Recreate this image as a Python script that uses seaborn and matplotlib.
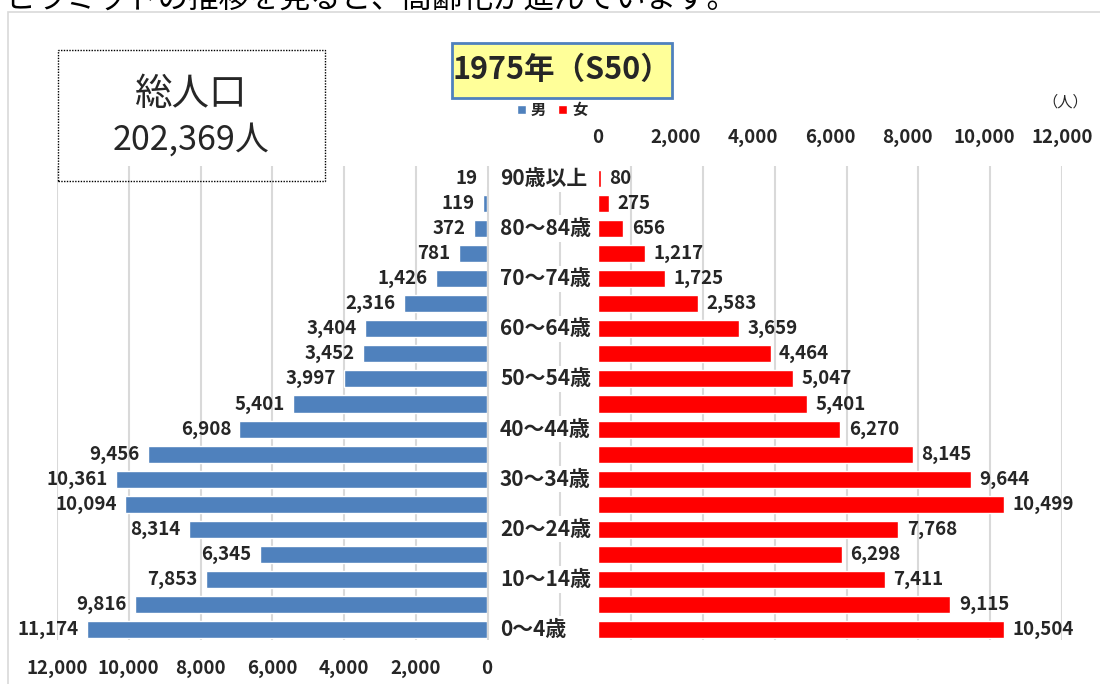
import matplotlib
matplotlib.use('Agg')
import matplotlib.pyplot as plt
import matplotlib.patches as mpatches
import matplotlib.transforms as mtransforms
import pandas as pd
import seaborn as sns

# Data (top row first: 90歳以上 ... 0～4歳)
ages = ['90歳以上', '85～89歳', '80～84歳', '75～79歳', '70～74歳', '65～69歳',
        '60～64歳', '55～59歳', '50～54歳', '45～49歳', '40～44歳', '35～39歳',
        '30～34歳', '25～29歳', '20～24歳', '15～19歳', '10～14歳', '5～9歳', '0～4歳']
male = [19, 119, 372, 781, 1426, 2316, 3404, 3452, 3997, 5401, 6908, 9456,
        10361, 10094, 8314, 6345, 7853, 9816, 11174]
female = [80, 275, 656, 1217, 1725, 2583, 3659, 4464, 5047, 5401, 6270, 8145,
          9644, 10499, 7768, 6298, 7411, 9115, 10504]
ticks = [0, 2000, 4000, 6000, 8000, 10000, 12000]
total_label = '202,369人'
title = '1975年（S50）'

df = pd.DataFrame({'age': ages, 'male': male, 'female': female})

sns.set_theme(style='white')
plt.rcParams['font.family'] = ['Noto Sans CJK JP', 'DejaVu Sans']

W, H = 1100, 684
fig = plt.figure(figsize=(W / 100, H / 100), dpi=100)


def box(x0, y0, x1, y1):
    # pixel box -> figure fraction [left, bottom, width, height]
    return [x0 / W, 1 - y1 / H, (x1 - x0) / W, (y1 - y0) / H]


def pt(x, y):
    return x / W, 1 - y / H


# outer frame and cut-off caption above it
fig.add_artist(mpatches.Rectangle(pt(8, 700), 1200 / W, 688 / H, transform=fig.transFigure,
                                  fill=False, edgecolor='#d9d9d9', lw=1.2))
fig.text(*pt(5, 8), 'ピラミッドの推移を見ると、高齢化が進んでいます。', fontsize=22,
         va='baseline', ha='left', color='black')

# background gridlines
ax_g = fig.add_axes(box(57, 166, 1062, 640))
ax_g.set_xlim(0, 14)
ax_g.set_xticks(range(15))
ax_g.set_yticks([])
ax_g.grid(axis='x', color='#d9d9d9', lw=1.5)
ax_g.tick_params(length=0, labelbottom=False)
for s in ax_g.spines.values():
    s.set_visible(False)
ax_g.patch.set_alpha(0)

# male side
ax_m = fig.add_axes(box(57, 166, 487, 642))
sns.barplot(data=df, x='male', y='age', orient='h', color='#4f81bd', saturation=1,
            width=0.68, ax=ax_m)
ax_m.set_xlim(12000, 0)
ax_m.set_ylim(18.5, -0.5)
ax_m.set_xticks(ticks)
ax_m.set_xticklabels([f'{t:,}' for t in ticks], fontweight='bold', fontsize=13.5)
ax_m.set_yticks([])
ax_m.set_xlabel('')
ax_m.set_ylabel('')
ax_m.tick_params(axis='x', length=0, pad=12)
ax_m.patch.set_alpha(0)
for s in ax_m.spines.values():
    s.set_visible(False)
ax_m.bar_label(ax_m.containers[0], fmt='{:,.0f}', padding=6, fontsize=13.5, fontweight='bold')

# female side
ax_f = fig.add_axes(box(598, 166, 1062, 642))
sns.barplot(data=df, x='female', y='age', orient='h', color='#ff0000', saturation=1,
            width=0.68, ax=ax_f)
ax_f.set_xlim(0, 12000)
ax_f.set_ylim(18.5, -0.5)
ax_f.xaxis.tick_top()
ax_f.set_xticks(ticks)
ax_f.set_xticklabels([f'{t:,}' for t in ticks], fontweight='bold', fontsize=13.5)
ax_f.set_yticks([])
ax_f.set_xlabel('')
ax_f.set_ylabel('')
ax_f.tick_params(axis='x', length=0, pad=14)
ax_f.patch.set_alpha(0)
for s in ax_f.spines.values():
    s.set_visible(False)
ax_f.bar_label(ax_f.containers[0], fmt='{:,.0f}', padding=6, fontsize=13.5, fontweight='bold')

# age labels in the middle (every other class)
trans = mtransforms.blended_transform_factory(fig.transFigure, ax_f.transData)
for i, a in enumerate(ages):
    if i % 2 == 0:
        ax_f.text(500 / W, i, a, transform=trans, ha='left', va='center', fontsize=15,
                  fontweight='bold', clip_on=False,
                  bbox=dict(facecolor='white', edgecolor='none', pad=2))

# title box
fig.text(*pt(562, 70), title, ha='center', va='center', fontsize=22, fontweight='bold')
fig.add_artist(mpatches.Rectangle(pt(452, 98), 220 / W, 55 / H, transform=fig.transFigure,
                                  facecolor='#ffff99', edgecolor='#4f81bd', lw=2, zorder=0))

# total population box
fig.add_artist(mpatches.Rectangle(pt(58, 181), 267 / W, 131 / H, transform=fig.transFigure,
                                  fill=False, edgecolor='black', lw=1, ls=(0, (1, 1))))
fig.text(*pt(191, 94), '総人口', ha='center', va='center', fontsize=27)
fig.text(*pt(191, 140), total_label, ha='center', va='center', fontsize=24.5)

# legend and unit
handles = [ax_m.containers[0].patches[0], ax_f.containers[0].patches[0]]
fig.legend(handles, ['男', '女'], loc='center', bbox_to_anchor=pt(552, 110), ncol=2,
           frameon=False, handlelength=0.6, handleheight=0.6, handletextpad=0.3,
           columnspacing=0.8, prop={'size': 11, 'weight': 'bold'})
fig.text(*pt(1065, 102), '（人）', ha='center', va='center', fontsize=11)

fig.savefig('out.png', dpi=100)
